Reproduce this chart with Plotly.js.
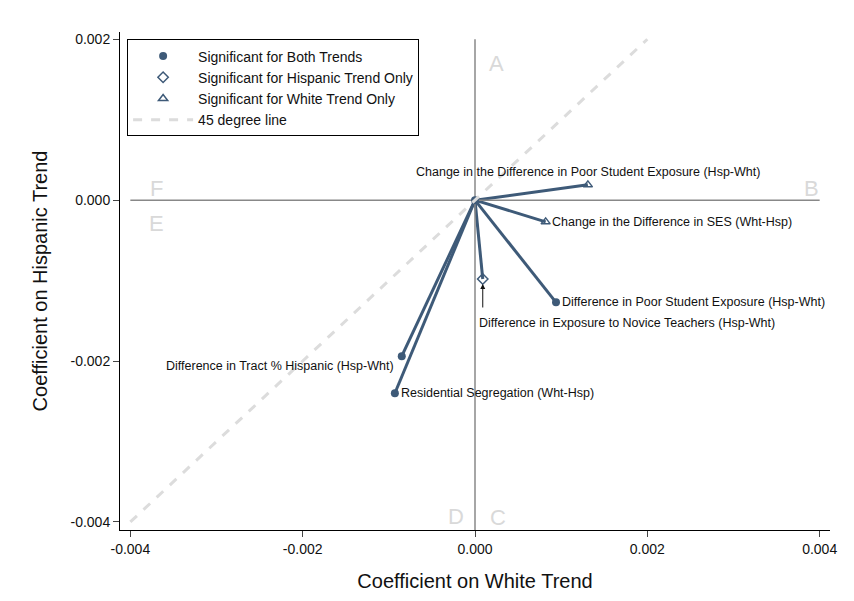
<!DOCTYPE html>
<html>
<head>
<meta charset="utf-8">
<script src="https://cdn.plot.ly/plotly-3.0.1.min.js"></script>
<style>body{margin:0;background:#fff}#plot{width:854px;height:601px}</style>
</head>
<body>
<div id="plot"></div>
<script>
// values
var labels = ['Change in the Difference in Poor Student Exposure (Hsp-Wht)',
  'Change in the Difference in SES (Wht-Hsp)',
  'Difference in Exposure to Novice Teachers (Hsp-Wht)',
  'Difference in Poor Student Exposure (Hsp-Wht)',
  'Difference in Tract % Hispanic (Hsp-Wht)',
  'Residential Segregation (Wht-Hsp)'];
var whiteCoef = [0.00131, 0.00082, 0.00009, 0.00094, -0.00085, -0.00093];
var hispCoef = [0.00019, -0.00027, -0.00098, -0.00127, -0.00194, -0.0024];
var sigType = ['white', 'white', 'hisp', 'both', 'both', 'both'];
var quadLetters = ['A', 'B', 'C', 'D', 'E', 'F'];
var quadX = [0.00025, 0.0039, 0.00027, -0.00022, -0.0037, -0.0037];
var quadY = [0.0017, 0.00015, -0.00395, -0.00393, -0.00029, 0.00015];

var navy = '#3e5a78';
var traces = [];

for (var i = 0; i < labels.length; i++) {
  traces.push({x: [0, whiteCoef[i]], y: [0, hispCoef[i]], mode: 'lines',
    line: {color: navy, width: 3}, showlegend: false, hoverinfo: 'skip'});
}
traces.push({x: [0, 0], y: [0.002, -0.0041], mode: 'lines', line: {color: '#888', width: 1.5}, showlegend: false});
traces.push({x: [-0.004, 0.004], y: [0, 0], mode: 'lines', line: {color: '#888', width: 1.5}, showlegend: false});

function pick(t) {
  var xs = [], ys = [];
  for (var i = 0; i < sigType.length; i++) if (sigType[i] === t) { xs.push(whiteCoef[i]); ys.push(hispCoef[i]); }
  return {x: xs, y: ys};
}
var both = pick('both'), hisp = pick('hisp'), white = pick('white');
traces.push({x: [0].concat(both.x), y: [0].concat(both.y), mode: 'markers', name: 'Significant for Both Trends',
  marker: {symbol: 'circle', size: 8, color: navy}});
traces.push({x: hisp.x, y: hisp.y, mode: 'markers', name: 'Significant for Hispanic Trend Only',
  marker: {symbol: 'diamond-open', size: 8, color: navy, line: {width: 1.5}}});
traces.push({x: white.x, y: white.y, mode: 'markers', name: 'Significant for White Trend Only',
  marker: {symbol: 'triangle-up-open', size: 8, color: navy, line: {width: 1.5}}});
traces.push({x: [-0.004, 0.002], y: [-0.004, 0.002], mode: 'lines', name: '45 degree line',
  line: {color: '#dcdcdc', width: 3, dash: 'dash'}});

var fs = 12.5;
var ann = [];
var lab = [
  {i: 0, xanchor: 'center', ys: 13},
  {i: 1, xanchor: 'left'},
  {i: 3, xanchor: 'left'},
  {i: 4, xanchor: 'right', ys: -10},
  {i: 5, xanchor: 'left'}
];
lab.forEach(function (o) {
  var i = o.i;
  ann.push({x: whiteCoef[i], y: hispCoef[i], text: labels[i], showarrow: false,
    xanchor: o.xanchor, yanchor: 'middle', xshift: o.xanchor === 'left' ? 4 : (o.xanchor === 'right' ? -6 : 0),
    yshift: o.ys || 0, font: {size: fs, color: '#111'}});
});
// arrow to the diamond, text below it
ann.push({x: whiteCoef[2], y: hispCoef[2], ax: 0, ay: 30, showarrow: true, arrowhead: 2, arrowsize: 1,
  arrowwidth: 1, arrowcolor: '#111', standoff: 5, text: ''});
ann.push({x: whiteCoef[2], y: hispCoef[2], text: labels[2], showarrow: false, xanchor: 'center',
  yanchor: 'top', yshift: -35, xshift: 144, font: {size: fs, color: '#111'}});
for (var k = 0; k < quadLetters.length; k++) {
  ann.push({x: quadX[k], y: quadY[k], text: quadLetters[k], showarrow: false, font: {size: 22, color: '#d9d9d9'}});
}

var layout = {
  width: 854, height: 601,
  margin: {l: 120, r: 24, t: 32, b: 71},
  paper_bgcolor: '#fff', plot_bgcolor: '#fff',
  font: {family: 'Liberation Sans, Arial, sans-serif', color: '#111'},
  xaxis: {range: [-0.00412, 0.00412], tickvals: [-0.004, -0.002, 0, 0.002, 0.004],
    ticktext: ['-0.004', '-0.002', '0.000', '0.002', '0.004'], ticks: 'outside', ticklen: 6,
    showgrid: false, zeroline: false, showline: true, linecolor: '#000', tickfont: {size: 14},
    title: {text: 'Coefficient on White Trend', font: {size: 20}, standoff: 18}},
  yaxis: {range: [-0.0041, 0.00209], tickvals: [-0.004, -0.002, 0, 0.002],
    ticktext: ['-0.004', '-0.002', '0.000', '0.002'], ticks: 'outside', ticklen: 6,
    showgrid: false, zeroline: false, showline: true, linecolor: '#000', tickfont: {size: 14},
    title: {text: 'Coefficient on Hispanic Trend', font: {size: 20}, standoff: 17}},
  legend: {x: 0.01, y: 0.985, xanchor: 'left', yanchor: 'top', bordercolor: '#000', borderwidth: 1,
    bgcolor: '#fff', font: {size: 14}, tracegroupgap: 0, itemwidth: 60},
  annotations: ann,
  showlegend: true
};

Plotly.newPlot('plot', traces, layout, {staticPlot: true});
</script>
</body>
</html>
